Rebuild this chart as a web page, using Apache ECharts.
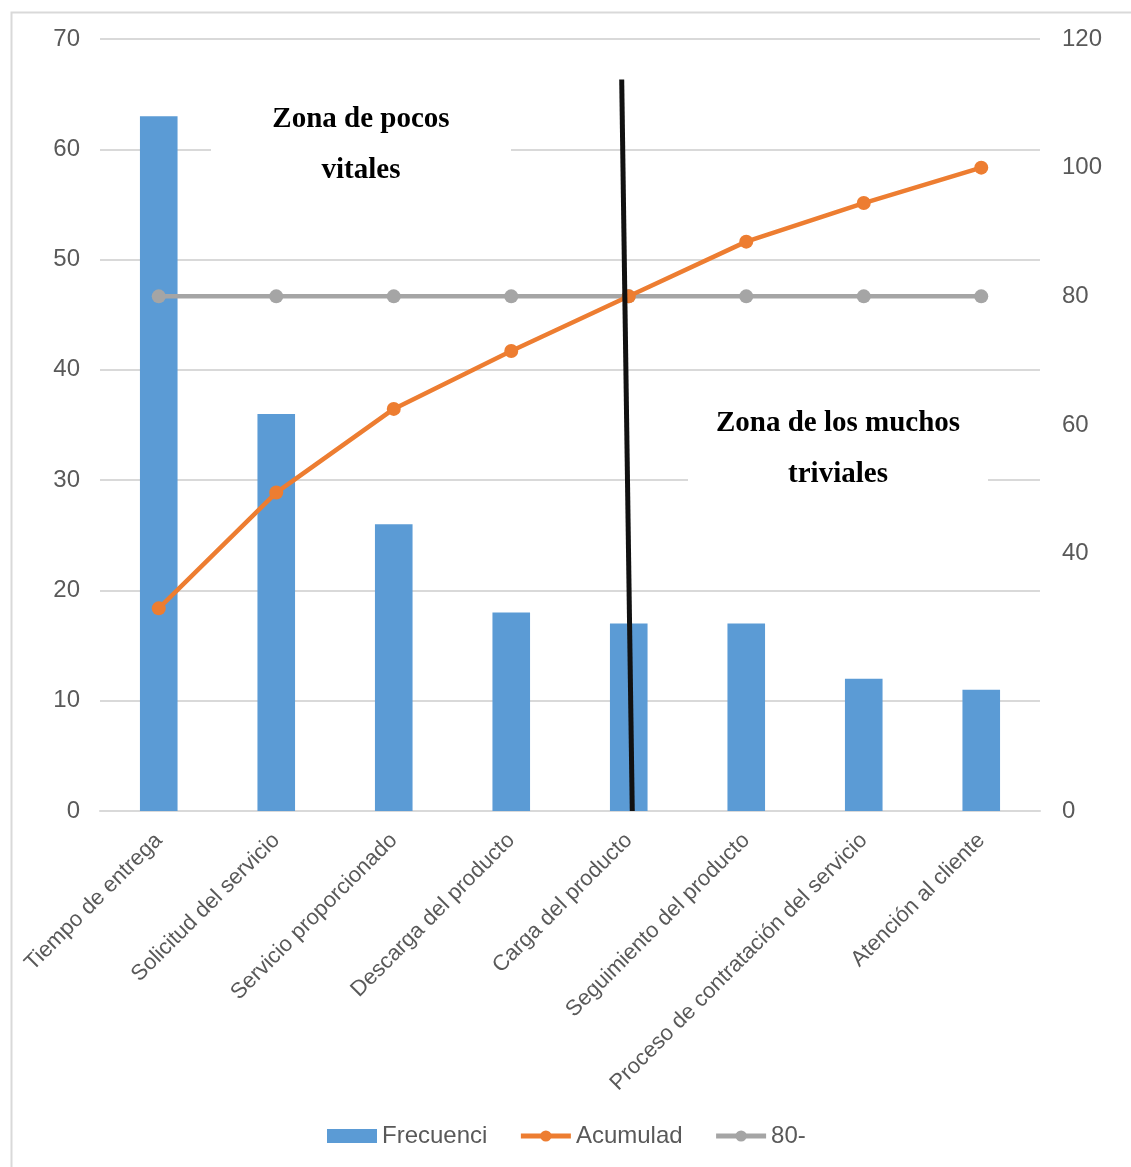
<!DOCTYPE html>
<html>
<head>
<meta charset="utf-8">
<script src="https://cdn.jsdelivr.net/npm/echarts@6/dist/echarts.min.js"></script>
<style>
html,body{margin:0;padding:0;background:#fff;}
#c{width:1131px;height:1167px;}
</style>
</head>
<body>
<div id="c"></div>
<script>
const categories = ["Tiempo de entrega","Solicitud del servicio","Servicio proporcionado","Descarga del producto","Carga del producto","Seguimiento del producto","Proceso de contratación del servicio","Atención al cliente"];
const frecuencia = [63, 36, 26, 18, 17, 17, 12, 11];
const acumulado = [31.5, 49.5, 62.5, 71.5, 80, 88.5, 94.5, 100];
const linea80 = [80, 80, 80, 80, 80, 80, 80, 80];
const divisoria = [[3.94, 113.7], [4.03, 0]];
const leftTicks = {min: 0, max: 70, interval: 10};
const rightTicks = {min: 0, max: 120, interval: 20};
const hiddenRightLabels = [20];

const chart = echarts.init(document.getElementById('c'), null, {renderer: 'canvas'});
const labelColor = '#595959';
const font = 'Liberation Sans, Arial, sans-serif';
const serif = 'Liberation Serif, Times New Roman, serif';

chart.setOption({
  animation: false,
  backgroundColor: '#fff',
  grid: {left: 100, right: 91, top: 39, bottom: 356, containLabel: false},
  legend: {
    bottom: 14,
    left: 322,
    itemWidth: 50,
    itemHeight: 14,
    itemGap: 31,
    textStyle: {fontSize: 24, color: labelColor, fontFamily: font},
    data: [
      {name: 'Frecuenci', icon: 'rect'},
      {name: 'Acumulad', lineStyle: {width: 5}},
      {name: '80-', lineStyle: {width: 5}}
    ]
  },
  xAxis: [
    {
      type: 'category',
      data: categories,
      axisLine: {lineStyle: {color: '#d9d9d9', width: 2}},
      axisTick: {show: false},
      axisLabel: {rotate: 45, fontSize: 22, color: labelColor, fontFamily: font, margin: 26, interval: 0}
    },
    {
      type: 'value', min: -0.5, max: 7.5, show: false
    }
  ],
  yAxis: [
    {
      type: 'value', min: leftTicks.min, max: leftTicks.max, interval: leftTicks.interval,
      axisLine: {show: false}, axisTick: {show: false},
      splitLine: {lineStyle: {color: '#d9d9d9', width: 2}},
      axisLabel: {fontSize: 24, color: labelColor, fontFamily: font, margin: 20}
    },
    {
      type: 'value', min: rightTicks.min, max: rightTicks.max, interval: rightTicks.interval,
      axisLine: {show: false}, axisTick: {show: false},
      splitLine: {show: false},
      axisLabel: {fontSize: 24, color: labelColor, fontFamily: font, margin: 22,
        formatter: v => hiddenRightLabels.includes(v) ? '' : String(v)}
    }
  ],
  series: [
    {
      name: 'Frecuenci', type: 'bar', data: frecuencia, barWidth: '32%',
      itemStyle: {color: '#5b9bd5'}, z: 2
    },
    {
      name: 'Acumulad', type: 'line', yAxisIndex: 1, data: acumulado,
      symbol: 'circle', symbolSize: 14,
      lineStyle: {color: '#ed7d31', width: 4.5},
      itemStyle: {color: '#ed7d31'}, z: 4
    },
    {
      name: '80-', type: 'line', yAxisIndex: 1, data: linea80,
      symbol: 'circle', symbolSize: 14,
      lineStyle: {color: '#a5a5a5', width: 4.5},
      itemStyle: {color: '#a5a5a5'}, z: 3
    },
    {
      name: 'divisoria', type: 'line', xAxisIndex: 1, yAxisIndex: 1, data: divisoria,
      symbol: 'none', lineStyle: {color: '#111', width: 5}, z: 5, silent: true
    }
  ],
  graphic: [
    {
      type: 'rect', left: 9, top: 10, z: -1, silent: true,
      shape: {width: 1300, height: 1300},
      style: {fill: 'none', stroke: '#d9d9d9', lineWidth: 2}
    },
    {
      type: 'rect', z: 9, silent: true,
      shape: {x: 211, y: 95, width: 300, height: 100},
      style: {fill: '#fff'}
    },
    {
      type: 'text', z: 10, silent: true,
      style: {
        x: 361, y: 145, text: 'Zona de pocos\nvitales', align: 'center', verticalAlign: 'middle',
        font: 'bold 29px ' + serif, lineHeight: 51, fill: '#000'
      }
    },
    {
      type: 'rect', z: 9, silent: true,
      shape: {x: 688, y: 398, width: 300, height: 100},
      style: {fill: '#fff'}
    },
    {
      type: 'text', z: 10, silent: true,
      style: {
        x: 838, y: 449, text: 'Zona de los muchos\ntriviales', align: 'center', verticalAlign: 'middle',
        font: 'bold 29px ' + serif, lineHeight: 51, fill: '#000'
      }
    }
  ]
});
</script>
</body>
</html>
